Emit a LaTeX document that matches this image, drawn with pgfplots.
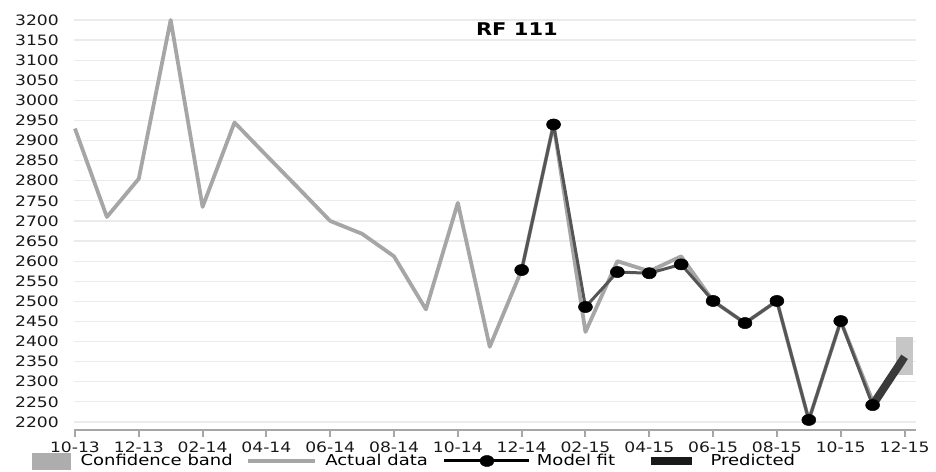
\documentclass[border=0pt]{standalone}
\usepackage{fontspec}
\setmainfont{DejaVu Sans}[FakeStretch=1.2]
\usepackage{pgfplots}
\pgfplotsset{compat=1.18}
\definecolor{actualc}{HTML}{A6A6A6}
\definecolor{fitc}{HTML}{555555}
\definecolor{predc}{HTML}{3A3A3A}
\definecolor{bandc}{HTML}{C6C6C6}
\definecolor{bandleg}{HTML}{ADADAD}
\definecolor{gridc}{HTML}{EBEBEB}
\definecolor{axc}{HTML}{A6A6A6}
\begin{document}
\begin{tikzpicture}[x=1bp,y=1bp]
\useasboundingbox (0,0) rectangle (936,472);
\begin{axis}[
  at={(74bp,42bp)}, anchor=south west,
  width=842bp, height=410bp, scale only axis,
  xmin=-0.03, xmax=26.36, ymin=2180, ymax=3200,
  clip=false,
  axis lines*=left,
  x axis line style={draw=axc, line width=2bp},
  y axis line style={draw=none},
  xtick={0,2,...,26},
  xticklabels={10-13,12-13,02-14,04-14,06-14,08-14,10-14,12-14,02-15,04-15,06-15,08-15,10-15,12-15},
  ytick={2200,2250,...,3200},
  scaled ticks=false,
  /pgf/number format/.cd, 1000 sep={}, assume math mode=true, /pgfplots/.cd,
  ymajorgrids, grid style={draw=gridc, line width=1.2bp},
  xtick style={draw=axc, line width=2bp},
  ytick style={draw=none},
  major tick length=7bp, tick align=outside,
  tick label style={font=\fontsize{14.3bp}{16bp}\selectfont, text=black!90},
  yticklabel style={anchor=east, inner sep=0pt},
  yticklabel shift=8bp,
  xticklabel style={anchor=north, inner sep=0pt},
  xticklabel shift=5bp,
  title={RF 111},
  title style={at={(0.526,0.962)}, anchor=center, font=\fontsize{17.5bp}{20bp}\selectfont\bfseries},
  legend columns=4,
  legend style={draw=none, fill=none, at={(-0.0499,-0.0756)}, anchor=west,
    inner sep=0pt, font=\fontsize{15bp}{17bp}\selectfont,
    nodes={inner xsep=0pt, inner ysep=1bp},
    /tikz/column 1/.style={column sep=10bp},
    /tikz/column 2/.style={column sep=13bp},
    /tikz/column 3/.style={column sep=8bp},
    /tikz/column 4/.style={column sep=15bp},
    /tikz/column 5/.style={column sep=6bp},
    /tikz/column 6/.style={column sep=36bp},
    /tikz/column 7/.style={column sep=19bp}},
  legend cell align=left,
]
% confidence band
\addplot[fill=bandc, draw=none, forget plot] coordinates {(25.72,2317) (26.25,2317) (26.25,2412) (25.72,2412)} --cycle;
% actual data
\addplot[actualc, line width=3.8bp, line join=round, forget plot] coordinates {
(0,2930)(1,2710)(2,2805)(3,3200)(4,2735)(5,2945)(6,2863)(7,2782)(8,2700)(9,2668)(10,2612)(11,2480)(12,2745)(13,2387)(14,2578)(15,2940)(16,2424)(17,2600)(18,2575)(19,2612)(20,2501)(21,2446)(22,2501)(23,2205)(24,2451)(25,2252)};
% model fit
\addplot[fitc, line width=3bp, line join=round, mark=*, mark size=5.6bp, mark options={fill=black, draw=black, xscale=1.25, line width=0.5bp}, forget plot] coordinates {
(14,2578)(15,2940)(16,2486)(17,2573)(18,2570)(19,2592)(20,2501)(21,2446)(22,2501)(23,2205)(24,2451)(25,2242)};
% predicted
\addplot[predc, line width=8bp, forget plot] coordinates {(25,2242)(26,2362)};
% legend
\addlegendimage{legend image code/.code={\fill[bandleg] (0bp,-8bp) rectangle (38bp,8bp);}}
\addlegendentry{Confidence band}
\addlegendimage{legend image code/.code={\draw[actualc, line width=4.5bp] (0bp,0bp) -- (67bp,0bp);}}
\addlegendentry{Actual data}
\addlegendimage{legend image code/.code={\draw[black, line width=3bp] (0bp,0bp) -- (85bp,0bp); \fill[black] (42.5bp,0bp) ellipse (7bp and 5.6bp);}}
\addlegendentry{Model fit}
\addlegendimage{legend image code/.code={\fill[black!90] (0bp,-3.5bp) rectangle (40bp,3.5bp);}}
\addlegendentry{Predicted}
\end{axis}
\end{tikzpicture}
\end{document}
